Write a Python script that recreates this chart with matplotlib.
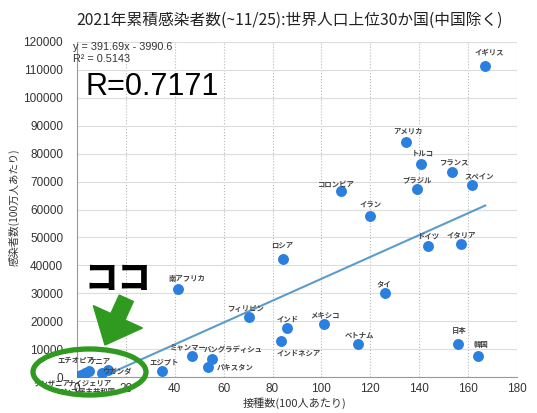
import matplotlib
matplotlib.use('Agg')
import matplotlib.pyplot as plt
import matplotlib.patches as mpatches

plt.rcParams['font.family'] = ['Noto Sans CJK JP', 'DejaVu Sans']

countries = ['イギリス', 'アメリカ', 'トルコ', 'フランス', 'スペイン', 'ブラジル',
             'コロンビア', 'イラン', 'ドイツ', 'イタリア', 'ロシア', '南アフリカ',
             'タイ', 'フィリピン', 'メキシコ', 'インド', 'インドネシア', 'ベトナム',
             '日本', '韓国', 'ミャンマー', 'バングラディシュ', 'パキスタン', 'エジプト',
             'ケニア', 'ウガンダ', 'エチオピア', 'ナイジェリア', 'タンザニア',
             'コンゴ民主共和国']
vaccinated = [167.0, 134.5, 140.9, 153.4, 161.7, 139.1,
              107.9, 120.0, 143.5, 157.0, 84.1, 41.2,
              126.2, 70.5, 100.9, 85.8, 83.3, 114.8,
              156.0, 164.0, 46.9, 55.4, 53.7, 34.9,
              12.7, 10.2, 5.0, 3.3, 1.5, 0.3]
cases = [111500, 84300, 76300, 73400, 68600, 67400,
         66800, 57600, 47100, 47700, 42400, 31600,
         30000, 21400, 19000, 17600, 12900, 11900,
         11900, 7400, 7400, 6600, 3700, 2300,
         2500, 1400, 2200, 1300, 700, 300]

slope = 391.69
intercept = -3990.6
r2 = 0.5143

x_ticks = list(range(0, 181, 20))
y_ticks = list(range(0, 120001, 10000))

# label offsets in pixels (dx, dy)
label_offsets = {
    'イギリス': (4, 13), 'アメリカ': (2, 11), 'トルコ': (1, 11), 'フランス': (2, 9),
    'スペイン': (7, 9), 'ブラジル': (0, 9), 'コロンビア': (-4, 6), 'イラン': (0, 11),
    'ドイツ': (1, 9), 'イタリア': (1, 9), 'ロシア': (0, 13), '南アフリカ': (9, 10),
    'タイ': (-2, 9), 'フィリピン': (-4, 9), 'メキシコ': (1, 8), 'インド': (1, 9),
    'インドネシア': (18, -12), 'ベトナム': (2, 9), '日本': (1, 13), '韓国': (3, 12),
    'ミャンマー': (-3, 9), 'バングラディシュ': (21, 9), 'パキスタン': (27, 0),
    'エジプト': (2, 9), 'ケニア': (-8, 9), 'ウガンダ': (15, 1), 'エチオピア': (-13, 10),
    'ナイジェリア': (4, -10), 'タンザニア': (-29, -8), 'コンゴ民主共和国': (9, -15),
}

W, H = 537, 413
fig = plt.figure(figsize=(W / 100, H / 100), dpi=100)
ax = fig.add_axes([77 / W, 1 - 377 / H, 440 / W, 335 / H])

xs = [min(vaccinated), max(vaccinated)]
ax.plot(xs, [slope * x + intercept for x in xs], color='#5c9ccb', lw=1.5, zorder=2)
ax.scatter(vaccinated, cases, s=62, color='#2b80df', zorder=3, linewidths=0)

for name, x, y in zip(countries, vaccinated, cases):
    dx, dy = label_offsets[name]
    ax.annotate(name, (x, y), xytext=(dx, dy), textcoords='offset pixels',
                ha='center', va='center', fontsize=5.3, color='#444444',
                fontweight='bold', zorder=4)

ax.set_xlim(0, 180)
ax.set_ylim(0, 120000)
ax.set_xticks(x_ticks)
ax.set_yticks(y_ticks)
ax.tick_params(length=0, labelsize=8.5, labelcolor='#333333')
ax.tick_params(axis='y', pad=10)
ax.tick_params(axis='x', pad=4)
for lab in ax.get_xticklabels() + ax.get_yticklabels():
    lab.set_fontfamily('Liberation Sans')
ax.grid(axis='y', color='#dcdcdc', lw=0.8)
ax.grid(axis='x', color='#b8b8b8', lw=0.8, ls=':')
ax.set_axisbelow(True)
for side in ['top', 'right']:
    ax.spines[side].set_visible(False)
for side in ['left', 'bottom']:
    ax.spines[side].set_color('#999999')

fig.text(290 / W, 1 - 20 / H, '2021年累積感染者数(~11/25):世界人口上位30か国(中国除く)',
         ha='center', va='center', fontsize=11.3, color='#222222')
fig.text(295 / W, 1 - 403 / H, '接種数(100人あたり)', ha='center', va='center',
         fontsize=8, color='#333333')
fig.text(14 / W, 1 - 207 / H, '感染者数(100万人あたり)', ha='center', va='center',
         fontsize=7.5, color='#333333', rotation=90)

fig.text(73 / W, 1 - 47 / H, 'y = %.2fx - %.1f' % (slope, -intercept), ha='left',
         va='center', fontsize=7.8, color='#333333', family='Liberation Sans')
fig.text(73 / W, 1 - 59 / H, 'R² = %.4f' % r2, ha='left', va='center',
         fontsize=7.8, color='#333333', family='Liberation Sans')
fig.text(85 / W, 1 - 87 / H, 'R=%.4f' % (r2 ** 0.5), ha='left', va='center',
         fontsize=22, color='black', family='Liberation Sans')

fig.text(118 / W, 1 - 279 / H, 'ココ', ha='center', va='center', fontsize=24,
         color='black', fontweight='heavy')

green = '#2f9a1f'
arrow = mpatches.FancyArrow(1.263, 1.147, -0.213, -0.467, width=0.155, head_width=0.54,
                            head_length=0.31, length_includes_head=True,
                            color=green, transform=fig.dpi_scale_trans, zorder=10)
fig.patches.append(arrow)
ring = mpatches.Ellipse((0.895, 0.41), 1.13, 0.46, fill=False, ec=green, lw=3.8,
                        transform=fig.dpi_scale_trans, zorder=10)
fig.patches.append(ring)

fig.savefig('out.png', dpi=100)
